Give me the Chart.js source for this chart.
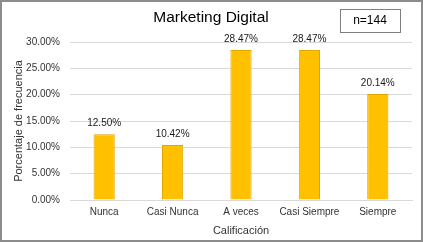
<!DOCTYPE html>
<html>
<head>
<meta charset="utf-8">
<script src="https://cdn.jsdelivr.net/npm/chart.js@4"></script>
<style>
  html, body { margin:0; padding:0; background:#fff; }
  #wrap { width:423px; height:242px; position:relative; }
</style>
</head>
<body>
<div id="wrap"><canvas id="chart"></canvas></div>
<script>
  // data
  const categories = ['Nunca', 'Casi Nunca', 'A veces', 'Casi Siempre', 'Siempre'];
  const percentages = [12.50, 10.42, 28.47, 28.47, 20.14];
  const yTicks = [0, 5, 10, 15, 20, 25, 30];
  const chartTitle = 'Marketing Digital';
  const sampleNote = 'n=144';

  const FONT = "'Liberation Sans', Arial, sans-serif";
  const TXT = '#333333';

  // title, n box, bar labels, outer frame
  const decor = {
    id: 'decor',
    beforeDraw(chart){
      const c = chart.ctx;
      c.save();
      c.fillStyle = '#fff';
      c.fillRect(0, 0, chart.width, chart.height);
      c.restore();
    },
    afterDraw(chart){
      const c = chart.ctx;
      c.save();
      c.fillStyle = '#000';
      c.font = '15.5px ' + FONT;
      c.textAlign = 'center';
      c.textBaseline = 'middle';
      c.fillText(chartTitle, 211, 18);

      c.strokeStyle = '#7f7f7f';
      c.lineWidth = 1;
      c.strokeRect(340.5, 9.5, 60, 23);
      c.font = '12px ' + FONT;
      c.fillText(sampleNote, 370, 21);

      const meta = chart.getDatasetMeta(0);
      c.font = '10px ' + FONT;
      c.textBaseline = 'alphabetic';
      c.fillStyle = '#1a1a1a';
      meta.data.forEach((bar, i) => {
        c.fillText(percentages[i].toFixed(2) + '%', bar.x, bar.y - 8);
      });

      c.strokeStyle = '#8c8c8c';
      c.lineWidth = 2;
      c.strokeRect(1, 1, chart.width - 2, chart.height - 2);
      c.restore();
    }
  };

  new Chart(document.getElementById('chart'), {
    type: 'bar',
    data: {
      labels: categories,
      datasets: [{
        data: percentages,
        backgroundColor: '#FFC000',
        borderColor: '#E3A600',
        borderWidth: 1,
        barPercentage: 0.31,
        categoryPercentage: 1
      }]
    },
    options: {
      responsive: true,
      maintainAspectRatio: false,
      animation: false,
      layout: { padding: { top: 42, right: 11, bottom: 0, left: 0 } },
      plugins: { legend: { display: false }, tooltip: { enabled: false } },
      scales: {
        x: {
          grid: { display: false, drawTicks: false },
          border: { display: true, color: '#d9d9d9' },
          ticks: { color: TXT, font: { family: FONT, size: 10 }, padding: 6, maxRotation: 0 },
          title: { display: true, text: 'Calificación', color: TXT, font: { family: FONT, size: 11 }, padding: { top: 4, bottom: 4 } },
          afterFit(s){ s.height = 42; }
        },
        y: {
          min: 0, max: 30,
          grid: { color: '#d9d9d9', drawTicks: false },
          border: { display: false },
          afterBuildTicks(s){ s.ticks = yTicks.map(v => ({ value: v })); },
          ticks: {
            color: TXT, font: { family: FONT, size: 10 }, padding: 10,
            callback: v => Number(v).toFixed(2) + '%'
          },
          title: { display: true, text: 'Porcentaje de frecuencia', color: TXT, font: { family: FONT, size: 11 }, padding: { top: 12, bottom: 4 } },
          afterFit(s){ s.width = 70; }
        }
      }
    },
    plugins: [decor]
  });
</script>
</body>
</html>
